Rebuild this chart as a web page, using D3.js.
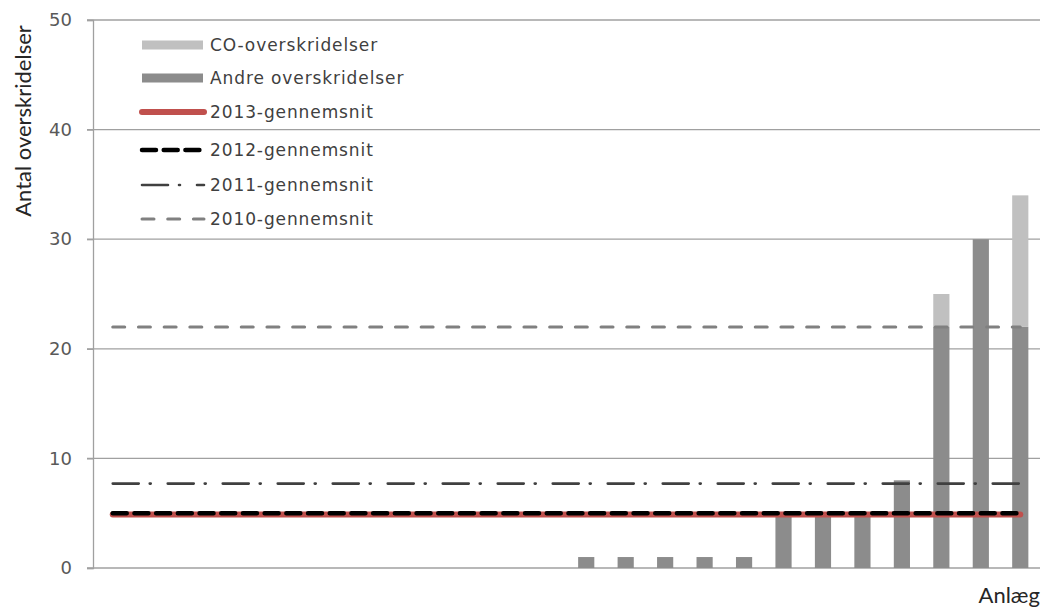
<!DOCTYPE html>
<html>
<head>
<meta charset="utf-8">
<script src="https://cdn.jsdelivr.net/npm/d3@7"></script>
<style>
  body { margin: 0; background: #fff; }
  svg { display: block; }
  .tick text { font-family: "DejaVu Sans", Verdana, sans-serif; font-size: 18px; fill: #595959; }
  .legend text { font-family: "DejaVu Sans", Verdana, sans-serif; font-size: 17px; letter-spacing: 0.9px; fill: #404040; }
  .axis-label { font-family: Lato, "Open Sans", sans-serif; font-size: 22px; fill: #262626; }
</style>
</head>
<body>
<svg id="chart" width="1043" height="613"></svg>
<script>
// ------------------------------------
// Data
// ------------------------------------
const categories = [1, 2, 3, 4, 5, 6, 7, 8, 9, 10, 11, 12, 13, 14, 15, 16, 17, 18, 19, 20, 21, 22, 23, 24];
const andre = [0, 0, 0, 0, 0, 0, 0, 0, 0, 0, 0, 0, 1, 1, 1, 1, 1, 5, 5, 5, 8, 22, 30, 22];
const coOver = [0, 0, 0, 0, 0, 0, 0, 0, 0, 0, 0, 0, 0, 0, 0, 0, 0, 0, 0, 0, 0, 3, 0, 12];
const avgNames = ["2013-gennemsnit", "2012-gennemsnit", "2011-gennemsnit", "2010-gennemsnit"];
const avgValues = [4.875, 5.0, 7.7, 22];
const yTicks = [0, 10, 20, 30, 40, 50];

// ------------------------------------
// Setup
// ------------------------------------
const svg = d3.select("#chart");
const margin = { top: 20, right: 3, bottom: 45, left: 93 };
const width = 1043, height = 613;
const innerWidth = width - margin.left - margin.right;
const innerHeight = height - margin.top - margin.bottom;

const g = svg.append("g")
  .attr("transform", `translate(${margin.left},${margin.top})`);

const x = d3.scaleBand()
  .domain(categories)
  .range([0, innerWidth])
  .paddingInner(0.59)
  .paddingOuter(0.295);

const y = d3.scaleLinear()
  .domain([0, 50])
  .range([innerHeight, 0]);

// gridlines
g.append("g")
  .selectAll("line")
  .data(yTicks.filter(d => d > 0))
  .join("line")
  .attr("x1", -6)
  .attr("x2", innerWidth)
  .attr("y1", d => y(d))
  .attr("y2", d => y(d))
  .attr("stroke", "#a0a0a0")
  .attr("stroke-width", 1.3);

// y axis
const yAxis = g.append("g")
  .call(d3.axisLeft(y).tickValues(yTicks).tickSize(6).tickPadding(15));
yAxis.select(".domain").attr("stroke", "#a0a0a0").attr("stroke-width", 1.3);
yAxis.selectAll(".tick line").attr("stroke", "#a0a0a0").attr("stroke-width", 1.3);

// x axis line
g.append("line")
  .attr("x1", -6)
  .attr("x2", innerWidth)
  .attr("y1", innerHeight)
  .attr("y2", innerHeight)
  .attr("stroke", "#a0a0a0")
  .attr("stroke-width", 1.3);

// ------------------------------------
// Bars
// ------------------------------------
g.append("g")
  .selectAll("rect")
  .data(categories.map((c, i) => ({ c, v: andre[i] })).filter(d => d.v > 0))
  .join("rect")
  .attr("x", d => x(d.c))
  .attr("width", x.bandwidth())
  .attr("y", d => y(d.v))
  .attr("height", d => innerHeight - y(d.v))
  .attr("fill", "#8c8c8c");

g.append("g")
  .selectAll("rect")
  .data(categories.map((c, i) => ({ c, base: andre[i], v: coOver[i] })).filter(d => d.v > 0))
  .join("rect")
  .attr("x", d => x(d.c))
  .attr("width", x.bandwidth())
  .attr("y", d => y(d.base + d.v))
  .attr("height", d => y(d.base) - y(d.base + d.v))
  .attr("fill", "#c0c0c0");

// ------------------------------------
// Average lines
// ------------------------------------
const lineStyles = {
  "2013-gennemsnit": { color: "#c0504d", width: 6, dash: null, cap: "round" },
  "2012-gennemsnit": { color: "#000000", width: 4.5, dash: "14 7.7", cap: "round" },
  "2011-gennemsnit": { color: "#404040", width: 2.6, dash: "26 11 1 17", cap: "round" },
  "2010-gennemsnit": { color: "#808080", width: 3, dash: "12 13.7", cap: "round" }
};

const line = d3.line()
  .x(d => x(d.c) + x.bandwidth() / 2)
  .y(d => y(d.v));

const drawOrder = ["2010-gennemsnit", "2011-gennemsnit", "2013-gennemsnit", "2012-gennemsnit"];
drawOrder.forEach(name => {
  const val = avgValues[avgNames.indexOf(name)];
  const st = lineStyles[name];
  g.append("path")
    .datum(categories.map(c => ({ c, v: val })))
    .attr("fill", "none")
    .attr("stroke", st.color)
    .attr("stroke-width", st.width)
    .attr("stroke-linecap", st.cap)
    .attr("stroke-dasharray", st.dash)
    .attr("d", line);
});

// ------------------------------------
// Axis titles
// ------------------------------------
svg.append("text")
  .attr("class", "axis-label")
  .attr("transform", "rotate(-90)")
  .attr("x", -121)
  .attr("y", 31)
  .attr("text-anchor", "middle")
  .text("Antal overskridelser");

svg.append("text")
  .attr("class", "axis-label")
  .attr("x", 1040)
  .attr("y", 603)
  .attr("text-anchor", "end")
  .text("Anlæg");

// ------------------------------------
// Legend
// ------------------------------------
const legend = svg.append("g").attr("class", "legend");
const legendItems = [
  { name: "CO-overskridelser", type: "rect", color: "#c0c0c0", y: 45 },
  { name: "Andre overskridelser", type: "rect", color: "#8c8c8c", y: 78 },
  { name: avgNames[0], type: "line", y: 112 },
  { name: avgNames[1], type: "line", y: 150 },
  { name: avgNames[2], type: "line", y: 185 },
  { name: avgNames[3], type: "line", y: 219 }
];

legendItems.forEach(it => {
  if (it.type === "rect") {
    legend.append("rect")
      .attr("x", 142).attr("y", it.y - 4.5)
      .attr("width", 61).attr("height", 9)
      .attr("fill", it.color);
  } else {
    const st = lineStyles[it.name];
    legend.append("line")
      .attr("x1", 142).attr("x2", 204)
      .attr("y1", it.y).attr("y2", it.y)
      .attr("stroke", st.color)
      .attr("stroke-width", st.width)
      .attr("stroke-linecap", st.cap)
      .attr("stroke-dasharray", st.dash);
  }
  legend.append("text")
    .attr("x", 210)
    .attr("y", it.y)
    .attr("dy", "0.35em")
    .text(it.name);
});
</script>
</body>
</html>
